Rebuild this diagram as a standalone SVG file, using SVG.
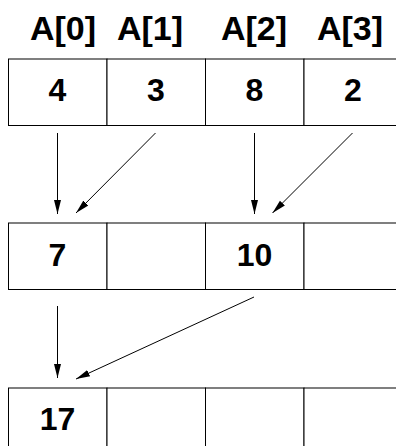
<svg xmlns="http://www.w3.org/2000/svg" width="396" height="446" viewBox="0 0 396 446">
<style>
.cell{fill:#fff;stroke:#000;stroke-width:1}
.hdr{font-family:"Liberation Sans",Arial,sans-serif;font-weight:bold;font-size:34px;fill:#000;text-anchor:middle}
.num{font-family:"Liberation Sans",Arial,sans-serif;font-weight:bold;font-size:32px;fill:#000;text-anchor:middle}
.conn line{stroke:#000;stroke-width:1}
</style>
<defs>
<marker id="ah" markerUnits="userSpaceOnUse" markerWidth="15" markerHeight="10" refX="14" refY="5" orient="auto">
<path d="M0,1.5 L14,5 L0,8.5 Z" fill="#000"/>
</marker>
</defs>
<rect width="396" height="446" fill="#fff"/>
<g id="headers">
<text class="hdr" x="63" y="40">A[0]</text>
<text class="hdr" x="150" y="40">A[1]</text>
<text class="hdr" x="254" y="40">A[2]</text>
<text class="hdr" x="350" y="40">A[3]</text>
</g>
<g id="row1">
<g id="r1c0"><rect class="cell" x="8.5" y="59" width="98.5" height="66.5"/><text class="num" x="57.5" y="101">4</text></g>
<g id="r1c1"><rect class="cell" x="107" y="59" width="98.5" height="66.5"/><text class="num" x="156" y="101">3</text></g>
<g id="r1c2"><rect class="cell" x="205.5" y="59" width="98.5" height="66.5"/><text class="num" x="254.5" y="101">8</text></g>
<g id="r1c3"><rect class="cell" x="304" y="59" width="98.5" height="66.5"/><text class="num" x="353" y="101">2</text></g>
</g>
<g id="row2">
<g id="r2c0"><rect class="cell" x="8.5" y="223" width="98.5" height="66.5"/><text class="num" x="57.5" y="265.5">7</text></g>
<g id="r2c1"><rect class="cell" x="107" y="223" width="98.5" height="66.5"/></g>
<g id="r2c2"><rect class="cell" x="205.5" y="223" width="98.5" height="66.5"/><text class="num" x="254.5" y="265.5">10</text></g>
<g id="r2c3"><rect class="cell" x="304" y="223" width="98.5" height="66.5"/></g>
</g>
<g id="row3">
<g id="r3c0"><rect class="cell" x="8.5" y="388" width="98.5" height="66.5"/><text class="num" x="57.5" y="429.5">17</text></g>
<g id="r3c1"><rect class="cell" x="107" y="388" width="98.5" height="66.5"/></g>
<g id="r3c2"><rect class="cell" x="205.5" y="388" width="98.5" height="66.5"/></g>
<g id="r3c3"><rect class="cell" x="304" y="388" width="98.5" height="66.5"/></g>
</g>
<g id="connectors" class="conn">
<line x1="57.5" y1="133" x2="57.5" y2="214" marker-end="url(#ah)"/>
<line x1="155.5" y1="133" x2="76" y2="213" marker-end="url(#ah)"/>
<line x1="254.5" y1="133" x2="254.5" y2="214" marker-end="url(#ah)"/>
<line x1="352.5" y1="133" x2="272.5" y2="213" marker-end="url(#ah)"/>
<line x1="57.5" y1="306" x2="57.5" y2="378" marker-end="url(#ah)"/>
<line x1="254" y1="297" x2="76" y2="379" marker-end="url(#ah)"/>
</g>
</svg>
